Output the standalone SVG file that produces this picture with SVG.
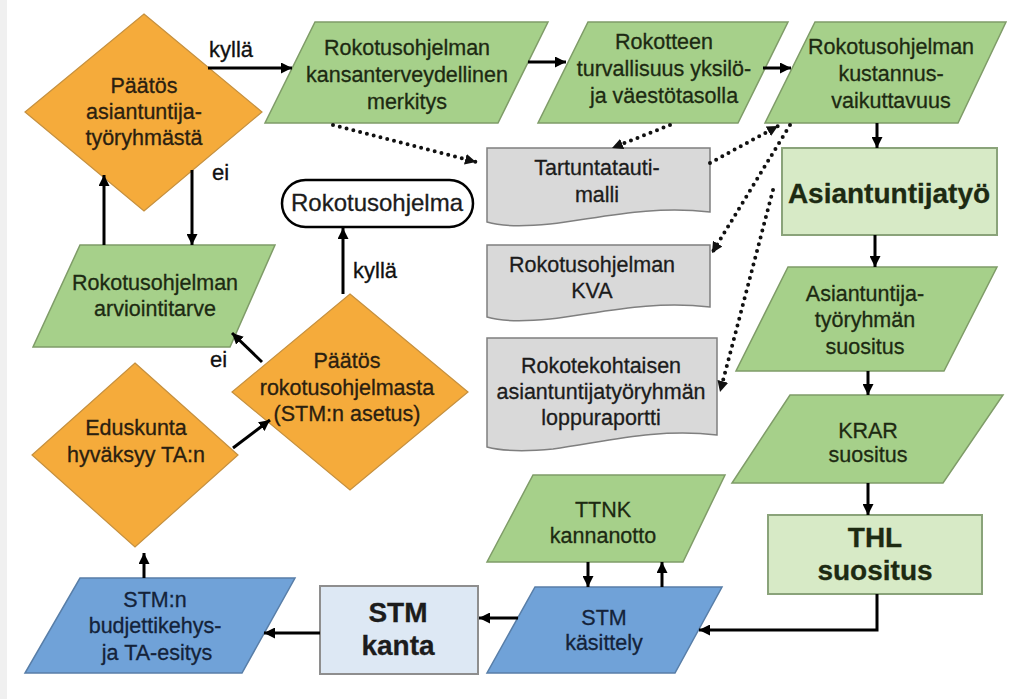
<svg xmlns="http://www.w3.org/2000/svg" width="1010" height="699" viewBox="0 0 1010 699">
<style>
.t{font-family:"Liberation Sans",Arial,sans-serif;font-size:21.5px;fill:#1c1c1c;text-anchor:middle;stroke:#1c1c1c;stroke-width:0.3}
.gt{fill:#1d2a12;stroke:#1d2a12}
.ot{fill:#2a2010;stroke:#2a2010}
.bt{fill:#14233a;stroke:#14233a}
.b{font-weight:bold;font-size:28px}
.lbl{font-family:"Liberation Sans",Arial,sans-serif;font-size:22px;fill:#111;stroke:#111;stroke-width:0.3}
.green{fill:#a6d08a;stroke:#7f9c68;stroke-width:1.5}
.orange{fill:#f5ab3b;stroke:#c5903f;stroke-width:1.2}
.doc{fill:#d9d9d9;stroke:#7f7f7f;stroke-width:1.5}
.blue{fill:#70a2d8;stroke:#587ea8;stroke-width:1.5}
.lg{fill:#d7eac6;stroke:#8aa37a;stroke-width:2}
.lb{fill:#dde8f4;stroke:#8e8e8e;stroke-width:2}
.term{fill:#fff;stroke:#000;stroke-width:2.5}
.c{fill:none;stroke:#000;stroke-width:3;marker-end:url(#ah)}
.d{fill:none;stroke:#111;stroke-width:4;stroke-dasharray:0 7;stroke-linecap:round;marker-end:url(#ahd)}
</style>
<defs>
<marker id="ah" viewBox="0 0 10 10" refX="10" refY="5" markerWidth="11" markerHeight="11" markerUnits="userSpaceOnUse" orient="auto"><path d="M0,0 L10,5 L0,10 z" fill="#000"/></marker>
<marker id="ahd" viewBox="0 0 10 10" refX="10" refY="5" markerWidth="11" markerHeight="11" markerUnits="userSpaceOnUse" orient="auto"><path d="M0,0 L10,5 L0,10 z" fill="#111"/></marker>
</defs>
<rect x="0" y="0" width="1010" height="699" fill="#fff"/>
<rect x="0" y="0" width="7" height="699" fill="#f0f0f0"/>

<g id="d1">
<polygon class="orange" points="144,14 262,112 144,211 25,112"/>
<text class="t ot" x="144" y="93">Päätös</text>
<text class="t ot" x="144" y="119">asiantuntija-</text>
<text class="t ot" x="144" y="145">työryhmästä</text>
</g>

<g id="p1">
<polygon class="green" points="315,22 548,22 498,123 265,123"/>
<text class="t gt" x="407" y="55">Rokotusohjelman</text>
<text class="t gt" x="407" y="82">kansanterveydellinen</text>
<text class="t gt" x="407" y="109">merkitys</text>
</g>

<g id="p2">
<polygon class="green" points="588,22 788,22 738,123 538,123"/>
<text class="t gt" x="664" y="49">Rokotteen</text>
<text class="t gt" x="664" y="76">turvallisuus yksilö-</text>
<text class="t gt" x="664" y="103">ja väestötasolla</text>
</g>

<g id="p3">
<polygon class="green" points="815,22 1006,22 958,123 765,123"/>
<text class="t gt" x="891" y="54">Rokotusohjelman</text>
<text class="t gt" x="891" y="81">kustannus-</text>
<text class="t gt" x="891" y="108">vaikuttavuus</text>
</g>

<g id="asiantuntijatyo">
<rect class="lg" x="782" y="148" width="215" height="87"/>
<text class="t b gt" x="889" y="203">Asiantuntijatyö</text>
</g>

<g id="p4">
<polygon class="green" points="788,267 997,267 944,371 736,371"/>
<text class="t gt" x="865" y="301">Asiantuntija-</text>
<text class="t gt" x="865" y="327">työryhmän</text>
<text class="t gt" x="865" y="354">suositus</text>
</g>

<g id="krar">
<polygon class="green" points="790,395 1003,395 943,483 732,483"/>
<text class="t gt" x="868" y="438">KRAR</text>
<text class="t gt" x="868" y="462">suositus</text>
</g>

<g id="thl">
<rect class="lg" x="768" y="515" width="214" height="79"/>
<text class="t b gt" x="875" y="547">THL</text>
<text class="t b gt" x="875" y="580">suositus</text>
</g>

<g id="ttnk">
<polygon class="green" points="533,475 725,475 683,562 487,562"/>
<text class="t gt" x="603" y="517">TTNK</text>
<text class="t gt" x="603" y="543">kannanotto</text>
</g>

<g id="stmkasittely">
<polygon class="blue" points="535,587 722,587 675,673 487,673"/>
<text class="t bt" x="604" y="625">STM</text>
<text class="t bt" x="604" y="650">käsittely</text>
</g>

<g id="stmkanta">
<rect class="lb" x="320" y="586" width="158" height="88"/>
<text class="t b" x="398" y="622">STM</text>
<text class="t b" x="398" y="655">kanta</text>
</g>

<g id="budjetti">
<polygon class="blue" points="80,578 295,578 242,673 25,673"/>
<text class="t bt" x="155" y="607">STM:n</text>
<text class="t bt" x="155" y="633">budjettikehys-</text>
<text class="t bt" x="157" y="660">ja TA-esitys</text>
</g>

<g id="d3">
<polygon class="orange" points="135,363 238,455 135,547 32,455"/>
<text class="t ot" x="136" y="435">Eduskunta</text>
<text class="t ot" x="136" y="462">hyväksyy TA:n</text>
</g>

<g id="d2">
<polygon class="orange" points="350,294 468,392 350,490 232,392"/>
<text class="t ot" x="347" y="368">Päätös</text>
<text class="t ot" x="347" y="395">rokotusohjelmasta</text>
<text class="t ot" x="347" y="421">(STM:n asetus)</text>
</g>

<g id="arviointi">
<polygon class="green" points="80,245 275,245 230,347 33,347"/>
<text class="t gt" x="155" y="290">Rokotusohjelman</text>
<text class="t gt" x="155" y="316">arviointitarve</text>
</g>

<g id="rokotusohjelma">
<rect class="term" x="282" y="180" width="191" height="47" rx="23.5"/>
<text class="t" x="377" y="211" style="font-size:24px">Rokotusohjelma</text>
</g>

<g id="tartunta">
<path class="doc" d="M487,148 H710 V212 C650,205 600,218 550,224 C520,227 500,226 487,222 Z"/>
<text class="t" x="597" y="175">Tartuntatauti-</text>
<text class="t" x="597" y="202">malli</text>
</g>

<g id="kva">
<path class="doc" d="M487,245 H710 V307 C650,300 600,313 550,319 C520,322 500,321 487,317 Z"/>
<text class="t" x="592" y="272">Rokotusohjelman</text>
<text class="t" x="592" y="298">KVA</text>
</g>

<g id="loppuraportti">
<path class="doc" d="M487,338 H717 V435 C655,428 605,442 553,449 C522,452 502,451 487,447 Z"/>
<text class="t" x="601" y="373">Rokotekohtaisen</text>
<text class="t" x="601" y="399">asiantuntijatyöryhmän</text>
<text class="t" x="601" y="425">loppuraportti</text>
</g>

<g id="connectors">
<line class="c" x1="208" y1="68" x2="292" y2="68"/>
<line class="c" x1="528" y1="62" x2="566" y2="62"/>
<line class="c" x1="763" y1="68" x2="791" y2="68"/>
<line class="c" x1="877" y1="123" x2="877" y2="148"/>
<line class="c" x1="875" y1="235" x2="875" y2="267"/>
<line class="c" x1="868" y1="371" x2="868" y2="395"/>
<line class="c" x1="868" y1="483" x2="868" y2="515"/>
<polyline class="c" points="877,594 877,630 699,630"/>
<line class="c" x1="588" y1="562" x2="588" y2="587"/>
<line class="c" x1="662" y1="587" x2="662" y2="562"/>
<line class="c" x1="518" y1="618" x2="479" y2="618"/>
<line class="c" x1="320" y1="633" x2="264" y2="633"/>
<line class="c" x1="144" y1="578" x2="144" y2="553"/>
<line class="c" x1="233" y1="448" x2="270" y2="420"/>
<line class="c" x1="262" y1="362" x2="232" y2="333"/>
<line class="c" x1="343" y1="294" x2="343" y2="228"/>
<line class="c" x1="104" y1="245" x2="104" y2="175"/>
<line class="c" x1="192" y1="170" x2="192" y2="245"/>
<line class="d" x1="333" y1="125" x2="476" y2="162"/>
<line class="d" x1="670" y1="125" x2="612" y2="148"/>
<line class="d" x1="710" y1="163" x2="778" y2="126"/>
<line class="d" x1="790" y1="125" x2="712" y2="253"/>
<line class="d" x1="773" y1="190" x2="720" y2="392"/>
<text class="lbl" x="209" y="57">kyllä</text>
<text class="lbl" x="212" y="180">ei</text>
<text class="lbl" x="353" y="278">kyllä</text>
<text class="lbl" x="210" y="367">ei</text>
</g>
</svg>
